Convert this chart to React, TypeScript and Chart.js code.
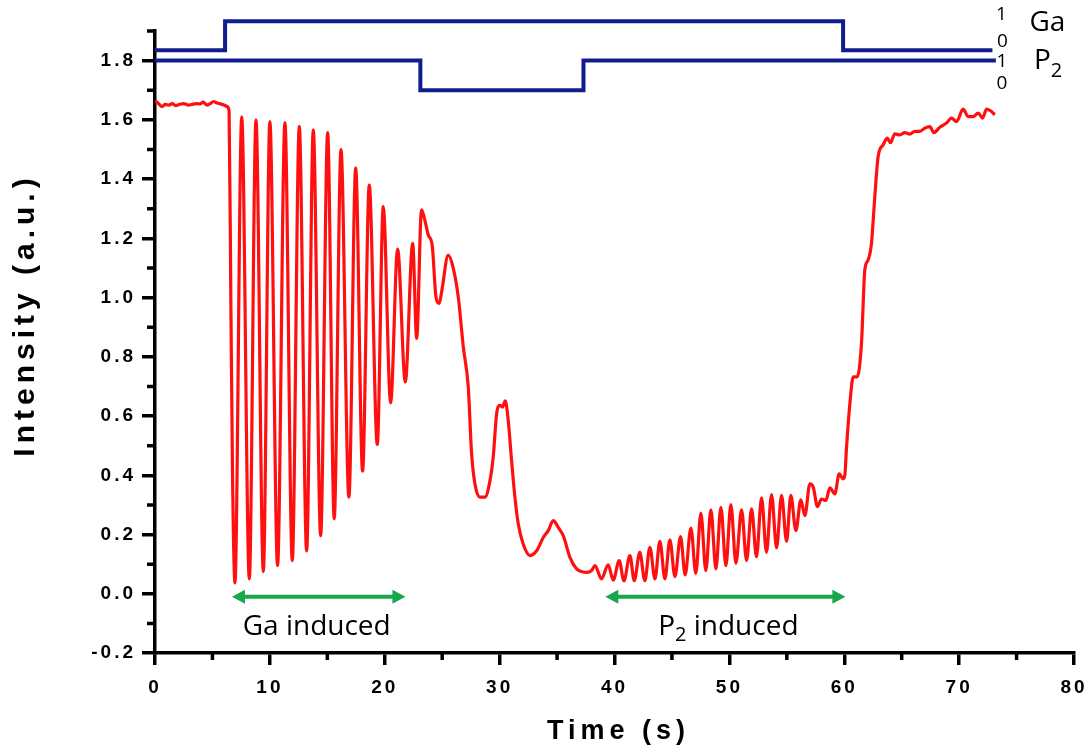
import React, { useEffect, useRef } from 'react';
import { Chart, registerables } from 'chart.js';

Chart.register(...registerables);

// ---- Data ----
const timeS = [
  0, 0.3, 0.6, 0.9, 1.2, 1.5, 1.8, 2.1, 2.5, 2.9, 3.2, 3.6, 3.9, 4.2, 4.5, 4.8, 5.1, 5.4, 5.7, 6.0, 6.3, 6.45,
  6.6, 6.75, 6.96,
  7.55, 8.21, 8.79, 9.43, 10.0, 10.67, 11.31, 11.95, 12.56, 13.2, 13.78, 14.42, 15.03, 15.6, 16.19, 16.88,
  17.47, 18.07, 18.65, 19.35, 19.87, 20.51, 21.12, 21.79, 22.43, 22.78, 23.2, 23.5, 23.79, 24.13, 24.46,
  24.74, 24.95, 25.53, 25.97, 26.4, 26.84, 27.27, 27.56, 27.85, 28.29, 28.72, 29.16, 29.44, 29.74, 30.03,
  30.25, 30.49, 30.75, 31.04, 31.33, 31.62, 32.05, 32.64, 33.22, 33.8, 34.23, 34.67, 35.1, 35.54, 36.12,
  36.7, 37.2, 37.57, 38.0, 38.3, 38.87, 39.45, 39.89, 40.41, 40.82, 41.34, 41.72, 42.2, 42.64, 43.08, 43.52,
  43.95, 44.39, 44.82, 45.26, 45.75, 46.15, 46.65, 47.08, 47.52, 47.95, 48.39, 48.83, 49.26, 49.7, 50.13,
  50.57, 51.06, 51.5, 51.93, 52.36, 52.8, 53.23, 53.67, 54.11, 54.54, 54.98, 55.35, 55.79, 56.22, 56.57,
  57.01, 57.3, 57.67, 58.02, 58.4, 58.75, 59.18, 59.56, 59.9, 60.05, 60.2, 60.49, 60.78, 61.13, 61.5, 61.79,
  62.08, 62.37, 62.66, 62.95, 63.39, 63.74, 64.03, 64.4, 64.84, 65.27, 65.7, 66.14, 66.58, 67.01, 67.45,
  67.8, 68.32, 68.9, 69.34, 69.77, 70.35, 70.79, 71.22, 71.66, 72.04, 72.39, 72.82, 73.1,
];

const intensity = [
  1.665, 1.655, 1.645, 1.652, 1.65, 1.655, 1.648, 1.652, 1.655, 1.65, 1.652, 1.655, 1.654, 1.66, 1.65, 1.655, 1.662, 1.657, 1.654, 1.65, 1.645, 1.63,
  1.0, 0.4, 0.037,
  1.61, 0.05, 1.6, 0.075, 1.594, 0.095, 1.591, 0.112, 1.578, 0.145, 1.566, 0.196, 1.557, 0.253, 1.5, 0.326,
  1.437, 0.414, 1.38, 0.504, 1.307, 0.644, 1.164, 0.715, 1.183, 0.862, 1.296, 1.26, 1.211, 1.177, 1.002,
  0.98, 1.019, 1.143, 1.098, 1.002, 0.833, 0.698, 0.473, 0.371, 0.326, 0.326, 0.382, 0.461, 0.608, 0.636,
  0.63, 0.651, 0.585, 0.45, 0.326, 0.236, 0.168, 0.129, 0.145, 0.19, 0.213, 0.247, 0.224, 0.196, 0.123,
  0.084, 0.074, 0.072, 0.078, 0.095, 0.05, 0.098, 0.046, 0.112, 0.044, 0.129, 0.044, 0.14, 0.044, 0.157, 0.05,
  0.177, 0.05, 0.182, 0.058, 0.193, 0.064, 0.222, 0.069, 0.272, 0.078, 0.283, 0.084, 0.292, 0.095, 0.301,
  0.103, 0.283, 0.112, 0.287, 0.125, 0.324, 0.14, 0.335, 0.155, 0.332, 0.177, 0.332, 0.213, 0.317, 0.264,
  0.371, 0.36, 0.294, 0.32, 0.315, 0.358, 0.337, 0.405, 0.388, 0.4, 0.495, 0.642, 0.732, 0.732, 0.845, 1.093,
  1.127, 1.183, 1.341, 1.476, 1.516, 1.538, 1.523, 1.553, 1.549, 1.557, 1.552, 1.561, 1.561, 1.572, 1.577,
  1.557, 1.575, 1.589, 1.606, 1.594, 1.636, 1.611, 1.611, 1.623, 1.606, 1.636, 1.628, 1.617,
];

// Shutter states (0 = closed, 1 = open) and the times they switch
const gaSwitchTimes = [0, 6.1, 59.9, 72.9];
const gaStates = [0, 1, 0, 0];
const gaLevelValues = [1.835, 1.933];
const p2SwitchTimes = [0, 23.1, 37.3, 73.2];
const p2States = [1, 0, 1, 1];
const p2LevelValues = [1.7, 1.8];

const xTickValues = [0, 10, 20, 30, 40, 50, 60, 70, 80];
const xMinorTicks = [5, 15, 25, 35, 45, 55, 65, 75];
const yTickValues = [-0.2, 0, 0.2, 0.4, 0.6, 0.8, 1.0, 1.2, 1.4, 1.6, 1.8];
const yMinorTicks = [-0.1, 0.1, 0.3, 0.5, 0.7, 0.9, 1.1, 1.3, 1.5, 1.7, 1.9];

const gaArrow = [6.7, 21.8];
const p2Arrow = [39.2, 60.1];
const arrowLevel = -0.01;

const RED = '#ff1010';
const BLUE = '#111c8e';
const GREEN = '#17a84c';
const AXIS_FONT = '"Liberation Sans", Arial, sans-serif';
const NOTE_FONT = '"Open Sans", "Noto Sans", sans-serif';

function stepPoints(times: number[], states: number[], levels: number[]) {
  return times.map((t, i) => ({ x: t, y: levels[states[i]] }));
}

const annotationPlugin = {
  id: 'annotations',
  beforeDraw(chart: any) {
    chart.ctx.letterSpacing = '3px';
  },
  afterDraw(chart: any) {
    const ctx = chart.ctx;
    const xs = chart.scales.x;
    const ys = chart.scales.y;
    const area = chart.chartArea;
    ctx.save();
    ctx.letterSpacing = '0px';

    // minor ticks
    ctx.strokeStyle = '#000';
    ctx.lineWidth = 3.5;
    ctx.beginPath();
    xMinorTicks.forEach((v) => {
      const px = xs.getPixelForValue(v);
      ctx.moveTo(px, area.bottom);
      ctx.lineTo(px, area.bottom + 7);
    });
    yMinorTicks.forEach((v) => {
      const py = ys.getPixelForValue(v);
      ctx.moveTo(area.left - 8, py);
      ctx.lineTo(area.left, py);
    });
    ctx.stroke();

    // arrows
    const drawArrow = (a: number[]) => {
      const x1 = xs.getPixelForValue(a[0]);
      const x2 = xs.getPixelForValue(a[1]);
      const y = ys.getPixelForValue(arrowLevel);
      ctx.strokeStyle = GREEN;
      ctx.fillStyle = GREEN;
      ctx.lineWidth = 4;
      ctx.beginPath();
      ctx.moveTo(x1 + 8, y);
      ctx.lineTo(x2 - 8, y);
      ctx.stroke();
      const head = 13;
      const hw = 7;
      ctx.beginPath();
      ctx.moveTo(x1, y);
      ctx.lineTo(x1 + head, y - hw);
      ctx.lineTo(x1 + head, y + hw);
      ctx.closePath();
      ctx.fill();
      ctx.beginPath();
      ctx.moveTo(x2, y);
      ctx.lineTo(x2 - head, y - hw);
      ctx.lineTo(x2 - head, y + hw);
      ctx.closePath();
      ctx.fill();
      return { cx: (x1 + x2) / 2, y };
    };
    const g = drawArrow(gaArrow);
    const p = drawArrow(p2Arrow);

    ctx.fillStyle = '#000';
    ctx.textBaseline = 'middle';
    ctx.font = `28px ${NOTE_FONT}`;
    ctx.textAlign = 'center';
    ctx.fillText('Ga induced', g.cx - 2, g.y + 30);

    // P2 induced with subscript
    const bigFont = `28px ${NOTE_FONT}`;
    const subFont = `20px ${NOTE_FONT}`;
    ctx.font = bigFont;
    const wP = ctx.measureText('P').width;
    const wRest = ctx.measureText(' induced').width;
    ctx.font = subFont;
    const wSub = ctx.measureText('2').width;
    const total = wP + wSub + wRest;
    const sx = p.cx + 3 - total / 2;
    ctx.textAlign = 'left';
    ctx.font = bigFont;
    ctx.fillText('P', sx, p.y + 30);
    ctx.font = subFont;
    ctx.fillText('2', sx + wP, p.y + 39);
    ctx.font = bigFont;
    ctx.fillText(' induced', sx + wP + wSub, p.y + 30);

    // state labels on the right
    const gaEnd = xs.getPixelForValue(gaSwitchTimes[gaSwitchTimes.length - 1]);
    const p2End = xs.getPixelForValue(p2SwitchTimes[p2SwitchTimes.length - 1]);
    ctx.font = `19px ${NOTE_FONT}`;
    ctx.textAlign = 'center';
    ctx.fillText('1', gaEnd + 9, ys.getPixelForValue(gaLevelValues[1]) - 7);
    ctx.fillText('0', gaEnd + 10, ys.getPixelForValue(gaLevelValues[0]) - 9);
    ctx.fillText('1', p2End + 6, ys.getPixelForValue(p2LevelValues[1]) + 1);
    ctx.fillText('0', p2End + 6, ys.getPixelForValue(p2LevelValues[0]) - 7);

    ctx.textAlign = 'left';
    ctx.font = `28px ${NOTE_FONT}`;
    ctx.fillText('Ga', gaEnd + 37, ys.getPixelForValue(gaLevelValues[1]) + 2);
    ctx.fillText('P', p2End + 38, ys.getPixelForValue(p2LevelValues[1]) + 0);
    const wP2 = ctx.measureText('P').width;
    ctx.font = `20px ${NOTE_FONT}`;
    ctx.fillText('2', p2End + 38 + wP2, ys.getPixelForValue(p2LevelValues[1]) + 11);

    // axis titles
    ctx.font = `bold 27px ${AXIS_FONT}`;
    ctx.letterSpacing = '5px';
    ctx.textAlign = 'center';
    ctx.fillText('Time (s)', (area.left + area.right) / 2 + 4, 732);

    ctx.save();
    ctx.translate(26, 315);
    ctx.rotate(-Math.PI / 2);
    ctx.font = `bold 30px ${AXIS_FONT}`;
    ctx.fillText('Intensity (a.u.)', 0, 0);
    ctx.restore();

    ctx.restore();
    ctx.letterSpacing = '0px';
  },
};

export default function App() {
  const canvasRef = useRef<HTMLCanvasElement | null>(null);

  useEffect(() => {
    if (!canvasRef.current) return;
    const chart = new Chart(canvasRef.current, {
      type: 'line',
      data: {
        datasets: [
          {
            data: timeS.map((t, i) => ({ x: t, y: intensity[i] })),
            borderColor: RED,
            borderWidth: 3.2,
            pointRadius: 0,
            cubicInterpolationMode: 'monotone',
            fill: false,
          },
          {
            data: stepPoints(gaSwitchTimes, gaStates, gaLevelValues),
            borderColor: BLUE,
            borderWidth: 4,
            pointRadius: 0,
            stepped: true,
            clip: false,
            fill: false,
          },
          {
            data: stepPoints(p2SwitchTimes, p2States, p2LevelValues),
            borderColor: BLUE,
            borderWidth: 4,
            pointRadius: 0,
            stepped: true,
            clip: false,
            fill: false,
          },
        ],
      } as any,
      options: {
        animation: false,
        responsive: false,
        devicePixelRatio: 1,
        layout: { padding: { left: 0, top: 31, right: 17, bottom: 0 } },
        plugins: {
          legend: { display: false },
          tooltip: { enabled: false },
          title: { display: false },
        },
        scales: {
          x: {
            type: 'linear',
            min: 0,
            max: 80,
            afterBuildTicks: (scale: any) => {
              scale.ticks = xTickValues.map((v) => ({ value: v }));
            },
            afterFit: (scale: any) => {
              scale.height = 101;
              scale.paddingLeft = 0;
              scale.paddingRight = 0;
            },
            ticks: {
              callback: (v: any) => String(v),
              color: '#000',
              font: { family: AXIS_FONT, size: 19, weight: 'bold' },
              padding: 11,
              maxRotation: 0,
            },
            grid: {
              display: true,
              drawOnChartArea: false,
              drawTicks: true,
              tickLength: 12,
              color: '#000',
              lineWidth: 3.5,
            },
            border: { display: true, color: '#000', width: 3.5 },
          },
          y: {
            type: 'linear',
            min: -0.2,
            max: 1.9,
            afterBuildTicks: (scale: any) => {
              scale.ticks = yTickValues.map((v) => ({ value: v }));
            },
            afterFit: (scale: any) => {
              scale.width = 155;
              scale.paddingTop = 0;
              scale.paddingBottom = 0;
            },
            ticks: {
              callback: (v: any) => Number(v).toFixed(1),
              color: '#000',
              font: { family: AXIS_FONT, size: 19, weight: 'bold' },
              padding: 6,
            },
            grid: {
              display: true,
              drawOnChartArea: false,
              drawTicks: true,
              tickLength: 13,
              color: '#000',
              lineWidth: 3.5,
            },
            border: { display: true, color: '#000', width: 3.5 },
          },
        },
      } as any,
      plugins: [annotationPlugin],
    });
    return () => chart.destroy();
  }, []);

  return (
    <div style={{ position: 'fixed', left: 0, top: 0, width: 1091, height: 754, background: '#fff' }}>
      <canvas ref={canvasRef} width={1091} height={754} style={{ display: 'block' }} />
    </div>
  );
}
